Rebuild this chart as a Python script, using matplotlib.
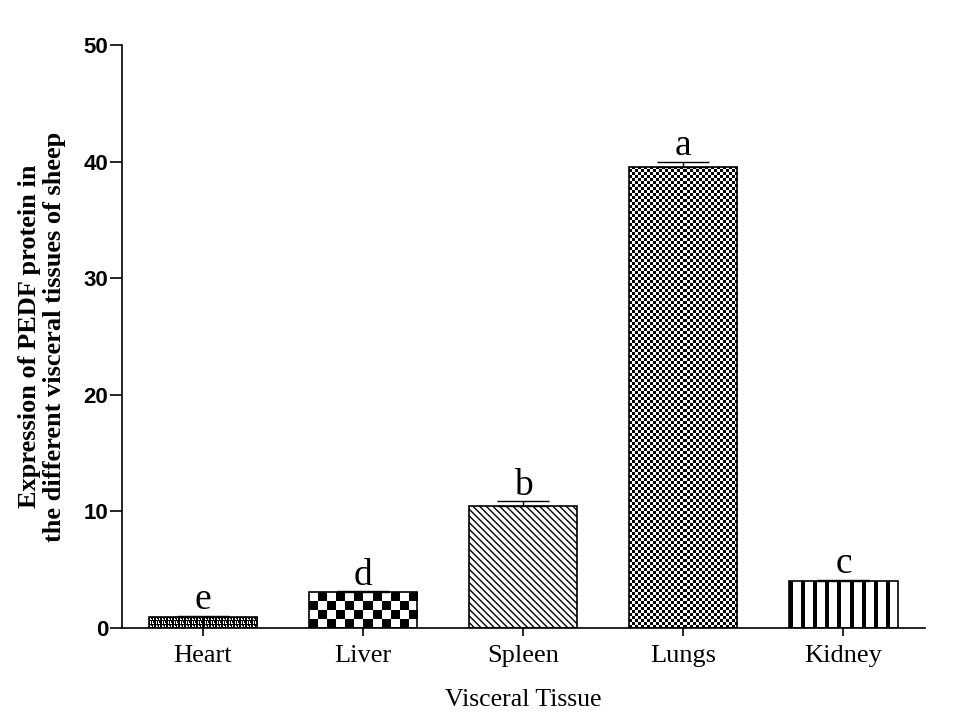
import numpy as np
import matplotlib.pyplot as plt

tissues = ['Heart', 'Liver', 'Spleen', 'Lungs', 'Kidney']
expression = [0.95, 3.05, 10.45, 39.5, 4.0]
sem = [0.1, 0.08, 0.4, 0.5, 0.1]
letters = ['e', 'd', 'b', 'a', 'c']

SERIF = 'Liberation Serif'
SANS = 'Liberation Sans'

PX_X = 160.0   # pixels per category unit
PX_Y = 11.66   # pixels per y unit


def tile_fill(ax, bar, tile):
    # repeat a small 0/1 tile (0 = black) over the bar, one cell per pixel, clipped to the bar
    x0, y0 = bar.get_x(), bar.get_y()
    w, h = bar.get_width(), bar.get_height()
    nx = max(1, int(round(w * PX_X)))
    ny = max(1, int(round(h * PX_Y)))
    tile = np.asarray(tile, dtype=float)
    reps = (ny // tile.shape[0] + 1, nx // tile.shape[1] + 1)
    img = np.tile(tile, reps)[:ny, :nx]
    im = ax.imshow(img, cmap='gray', vmin=0, vmax=1, interpolation='nearest',
                   extent=(x0, x0 + w, y0 + h, y0), aspect='auto', zorder=1)
    im.set_clip_path(bar)


def checker_tile(n):
    a = np.ones((2 * n, 2 * n))
    a[:n, :n] = 0
    a[n:, n:] = 0
    return a


heart_tile = [[0, 0, 0, 0, 0, 0],
              [0, 1, 1, 0, 1, 0],
              [0, 1, 0, 0, 1, 0],
              [0, 0, 0, 0, 0, 0],
              [0, 1, 0, 1, 1, 0],
              [0, 1, 0, 1, 0, 0]]

stripe_tile = [[0, 0, 0, 0, 1, 1, 1, 1, 1, 1, 1, 1]]


def main():
    fig = plt.figure(figsize=(9.79, 7.15), dpi=100)
    ax = fig.add_axes([0.1246, 0.1217, 0.8204, 0.8153])
    x = np.arange(len(tissues))

    bars = ax.bar(x, expression, width=0.675, color='none', edgecolor='black',
                  linewidth=1.2, zorder=2)
    tile_fill(ax, bars[0], heart_tile)
    tile_fill(ax, bars[1], checker_tile(9))
    tile_fill(ax, bars[3], checker_tile(3))
    tile_fill(ax, bars[4], stripe_tile)
    plt.rcParams['hatch.linewidth'] = 1.0
    bars[2].set_hatch('\\\\\\\\\\')

    ax.errorbar(x, expression, yerr=[np.zeros(len(sem)), sem], fmt='none',
                ecolor='black', elinewidth=1, capsize=19, capthick=1, zorder=3)

    for xi, v, e, l in zip(x, expression, sem, letters):
        ax.text(xi, v + e - 0.1, l, ha='center', va='bottom', fontsize=27, family=SERIF)

    ax.set_xlim(-0.506, 4.51)
    ax.set_ylim(0, 50)
    ax.set_yticks([0, 10, 20, 30, 40, 50])
    ax.set_xticks(x)
    ax.set_xticklabels(tissues, family=SERIF, fontsize=19)
    for lab in ax.get_yticklabels():
        lab.set_family(SANS)
        lab.set_fontweight('bold')
        lab.set_fontsize(16)
    ax.tick_params(axis='y', direction='out', length=9, width=1.2, pad=1)
    ax.tick_params(axis='x', direction='out', length=6, width=1.2, pad=6)
    ax.spines['top'].set_visible(False)
    ax.spines['right'].set_visible(False)
    ax.spines['left'].set_linewidth(1.2)
    ax.spines['bottom'].set_linewidth(1.2)

    ax.set_xlabel('Visceral Tissue', family=SERIF, fontsize=18.5, labelpad=16)
    ax.set_ylabel('Expression of PEDF protein in\nthe different visceral tissues of sheep',
                  family=SERIF, fontweight='bold', fontsize=19, linespacing=1.12, va='center')
    ax.yaxis.set_label_coords(-0.1, 0.5)

    fig.savefig('out.png', dpi=100)


if __name__ == '__main__':
    main()
